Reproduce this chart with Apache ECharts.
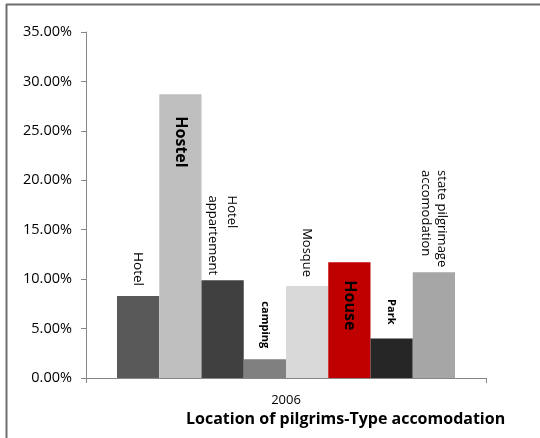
<!DOCTYPE html>
<html>
<head>
<meta charset="utf-8">
<script src="https://cdn.jsdelivr.net/npm/echarts@6/dist/echarts.min.js"></script>
<style>
html,body{margin:0;padding:0;background:#fff;}
#c{width:540px;height:438px;}
</style>
</head>
<body>
<div id="c"></div>
<script>
// ---- data ----
var years = ['2006'];
var types = ['Hotel', 'Hostel', 'Hotel appartement', 'camping', 'Mosque', 'House', 'Park', 'state pilgrimage accomodation'];
var labelTexts = ['Hotel', 'Hostel', 'Hotel\nappartement', 'camping', 'Mosque', 'House', 'Park', 'state pilgrimage\naccomodation'];
var shares = [0.083, 0.287, 0.099, 0.019, 0.093, 0.117, 0.040, 0.107];
var yTicks = [0, 0.05, 0.10, 0.15, 0.20, 0.25, 0.30, 0.35];
var chartTitle = 'Location of pilgrims-Type accomodation';

// ---- styles ----
var colors = ['#595959', '#bfbfbf', '#404040', '#808080', '#d9d9d9', '#c00000', '#262626', '#a6a6a6'];
var FONT = '"Open Sans", "DejaVu Sans", sans-serif';
var labelStyles = [
  {inside: false, size: 13.5, bold: false, dist: 10, lh: 18},
  {inside: true, size: 16, bold: true, dist: 22, lh: 19},
  {inside: false, size: 13, bold: false, dist: 5, lh: 19},
  {inside: false, size: 11, bold: true, dist: 11, lh: 14},
  {inside: false, size: 13, bold: false, dist: 9, lh: 18},
  {inside: true, size: 16, bold: true, dist: 18, lh: 19},
  {inside: false, size: 11, bold: true, dist: 14, lh: 14},
  {inside: false, size: 13, bold: false, dist: 5, lh: 16}
];

var series = types.map(function (name, i) {
  var st = labelStyles[i];
  return {
    name: name,
    type: 'bar',
    barGap: 0,
    barCategoryGap: '15.5%',
    data: [shares[i]],
    itemStyle: {color: colors[i]},
    label: {
      show: true,
      position: st.inside ? 'insideTop' : 'top',
      rotate: -90,
      align: st.inside ? 'left' : 'right',
      verticalAlign: 'middle',
      distance: st.dist,
      formatter: function () { return '{t|' + labelTexts[i].split('\n').join('}\n{t|') + '}'; },
      color: '#000',
      fontFamily: FONT,
      fontSize: st.size,
      fontWeight: st.bold ? 'bold' : 'normal',
      lineHeight: st.lh,
      rich: {
        t: {
          align: 'left',
          fontFamily: FONT,
          fontSize: st.size,
          fontWeight: st.bold ? 'bold' : 'normal',
          lineHeight: st.lh,
          color: '#000'
        }
      }
    }
  };
});

var chart = echarts.init(document.getElementById('c'), null, {renderer: 'canvas'});
chart.setOption({
  animation: false,
  backgroundColor: '#fff',
  textStyle: {fontFamily: FONT},
  title: {
    text: chartTitle,
    left: 181,
    top: 406,
    textStyle: {fontFamily: FONT, fontSize: 16, fontWeight: 'bold', color: '#000'}
  },
  graphic: [
    {type: 'line', shape: {x1: 6, y1: 4.5, x2: 540, y2: 4.5}, style: {stroke: '#6e6e6e', lineWidth: 2}, silent: true},
    {type: 'line', shape: {x1: 6.5, y1: 4, x2: 6.5, y2: 438}, style: {stroke: '#6e6e6e', lineWidth: 2}, silent: true}
  ],
  grid: {left: 86, right: 54, top: 32, bottom: 60, containLabel: false},
  xAxis: {
    type: 'category',
    data: years,
    axisLine: {lineStyle: {color: '#868686', width: 1}},
    axisTick: {show: true, length: 5, lineStyle: {color: '#868686'}},
    axisLabel: {color: '#000', fontFamily: FONT, fontSize: 13, margin: 16},
    splitLine: {show: false}
  },
  yAxis: {
    type: 'value',
    min: 0,
    max: 0.35,
    interval: 0.05,
    axisLine: {show: true, lineStyle: {color: '#868686', width: 1}},
    axisTick: {show: true, length: 5, lineStyle: {color: '#868686'}},
    axisLabel: {
      color: '#000', fontFamily: FONT, fontSize: 14.5, margin: 14,
      formatter: function (v) {
        var t = yTicks.filter(function (x) { return Math.abs(x - v) < 1e-9; })[0];
        return ((t !== undefined ? t : v) * 100).toFixed(2) + '%';
      }
    },
    splitLine: {show: false}
  },
  series: series
});
</script>
</body>
</html>
